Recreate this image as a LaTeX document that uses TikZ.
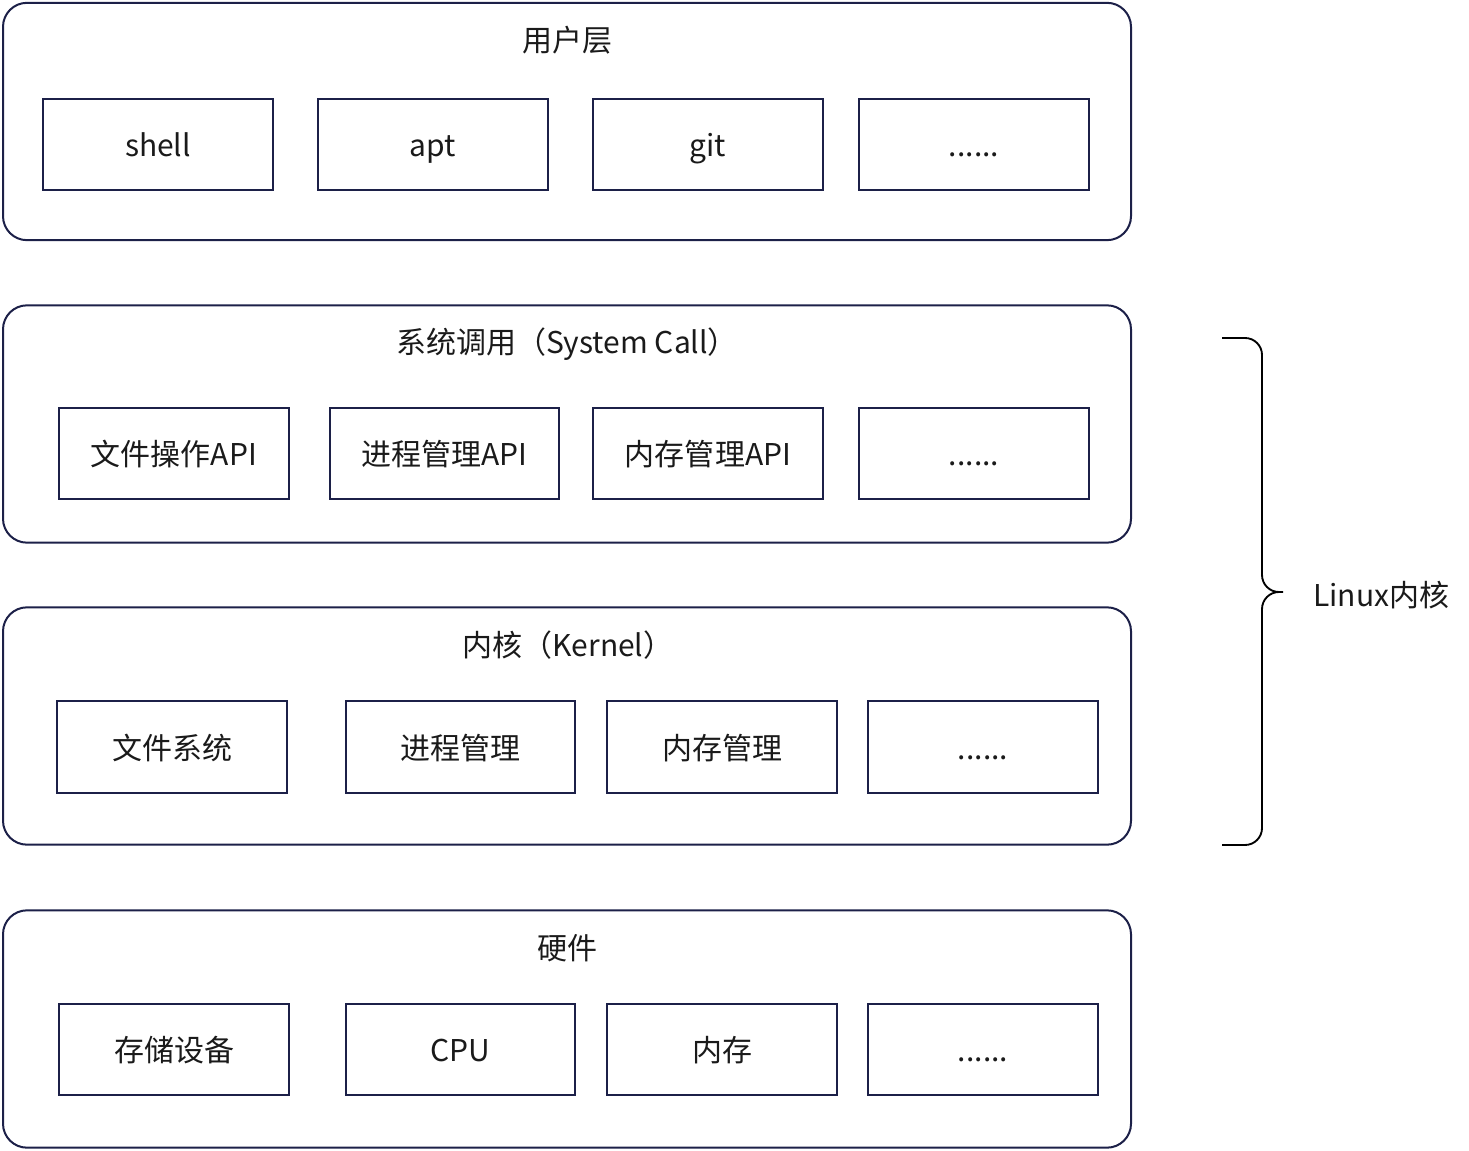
\documentclass[tikz,border=0pt]{standalone}
\usepackage{fontspec}
\setmainfont{Noto Sans CJK SC}
\usepackage{tikz}
\usetikzlibrary{positioning}
\definecolor{navy}{RGB}{28,32,72}
\definecolor{ink}{RGB}{26,26,26}

\begin{document}
\begin{tikzpicture}[
    x=0.75pt, y=-0.75pt,
    layer/.style={rectangle, draw=navy, line width=1.5pt, rounded corners=18pt, minimum width=846pt, minimum height=178pt, inner sep=0pt},
    item/.style={rectangle, draw=navy, line width=1.4pt, minimum width=172pt, minimum height=68.5pt, inner sep=0pt, text height=18.5pt, text depth=0pt, text=ink, font=\fontsize{22.5}{27}\selectfont},
    title/.style={text=ink, font=\fontsize{22.5}{27}\selectfont, inner sep=0pt, anchor=base},
    brace/.style={draw=black, line width=1.4pt}
]
\useasboundingbox (0,0) rectangle (1469,1151);

% User layer
\node[layer] (user) at (567,121.5) {};
\node[title] (user_title) at (567,52) {用户层};
\node[item] (shell) at (158,144.5) {shell};
\node[item] (apt) at (433,144.5) {apt};
\node[item] (git) at (708,144.5) {git};
\node[item] (user_more) at (974,144.5) {......};

% System call layer
\node[layer] (syscall) at (567,424) {};
\node[title] (syscall_title) at (567,354) {系统调用（System Call）};
\node[item] (file_api) at (174,453.5) {文件操作API};
\node[item] (proc_api) at (444.5,453.5) {进程管理API};
\node[item] (mem_api) at (708,453.5) {内存管理API};
\node[item] (api_more) at (974,453.5) {......};

% Kernel layer
\node[layer] (kernel) at (567,726) {};
\node[title] (kernel_title) at (568,656) {内核（Kernel）};
\node[item] (fs) at (172,747) {文件系统};
\node[item] (proc) at (460.5,747) {进程管理};
\node[item] (mem) at (722,747) {内存管理};
\node[item] (kernel_more) at (983,747) {......};

% Hardware layer
\node[layer] (hw) at (567,1029) {};
\node[title] (hw_title) at (567,959) {硬件};
\node[item] (storage) at (174,1049.5) {存储设备};
\node[item] (cpu) at (460.5,1049.5) {CPU};
\node[item] (ram) at (722,1049.5) {内存};
\node[item] (hw_more) at (983,1049.5) {......};

% Brace for the kernel part
\coordinate (brace_top) at (1222,338);
\coordinate (brace_bot) at (1222,845);
\coordinate (brace_tip) at (1283,592);
\draw[brace] (brace_top) -- (1245,338) arc[start angle=90, end angle=0, radius=12.75pt]
    -- (1262,575) arc[start angle=180, end angle=270, radius=12.75pt] -- (brace_tip)
    -- (1279,592) arc[start angle=90, end angle=180, radius=12.75pt]
    -- (1262,828) arc[start angle=0, end angle=-90, radius=12.75pt] -- (brace_bot);
\node[title, anchor=base west] (linux) at (1313,606) {Linux内核};

\end{tikzpicture}
\end{document}
